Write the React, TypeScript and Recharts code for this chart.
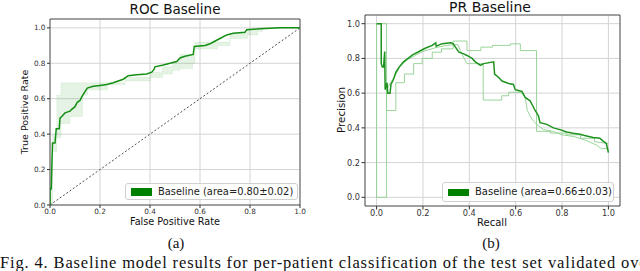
import {
  ComposedChart,
  Line,
  Area,
  XAxis,
  YAxis,
  CartesianGrid,
  ReferenceArea,
} from 'recharts';

// ROC curve (mean over folds)
const rocFpr = [0, 0, 0.005, 0.01, 0.02, 0.025, 0.037, 0.04, 0.047, 0.06, 0.08, 0.087, 0.1, 0.109, 0.12, 0.127, 0.14, 0.149, 0.173, 0.2, 0.227, 0.253, 0.273, 0.293, 0.313, 0.347, 0.387, 0.407, 0.416, 0.42, 0.453, 0.48, 0.507, 0.52, 0.54, 0.573, 0.577, 0.62, 0.64, 0.653, 0.68, 0.707, 0.733, 0.78, 0.787, 0.84, 0.92, 1];
const rocTpr = [0, 0.09, 0.09, 0.35, 0.35, 0.43, 0.43, 0.49, 0.5, 0.52, 0.53, 0.54, 0.555, 0.58, 0.59, 0.61, 0.64, 0.66, 0.67, 0.675, 0.68, 0.69, 0.7, 0.71, 0.73, 0.735, 0.74, 0.75, 0.765, 0.78, 0.79, 0.8, 0.81, 0.83, 0.84, 0.85, 0.895, 0.9, 0.91, 0.92, 0.94, 0.96, 0.97, 0.975, 0.99, 0.995, 1, 1];

// ROC std band
const bandFpr = [0, 0.01, 0.027, 0.044, 0.08, 0.13, 0.15, 0.23, 0.3, 0.4, 0.45, 0.49, 0.52, 0.57, 0.58, 0.67, 0.72, 0.79, 0.83, 0.85, 1];
const bandLow = [0, 0.3, 0.38, 0.46, 0.5, 0.62, 0.65, 0.68, 0.7, 0.72, 0.74, 0.76, 0.77, 0.8, 0.88, 0.9, 0.94, 0.96, 0.98, 1, 1];
const bandHigh = [0.1, 0.4, 0.62, 0.69, 0.69, 0.69, 0.69, 0.69, 0.72, 0.75, 0.78, 0.81, 0.85, 0.85, 0.92, 0.92, 0.97, 0.99, 1, 1, 1];

const chanceFpr = [0, 1];
const chanceTpr = [0, 1];

// PR curve (mean)
const prRecall = [0, 0.02, 0.02, 0.025, 0.03, 0.035, 0.037, 0.045, 0.048, 0.058, 0.062, 0.073, 0.083, 0.097, 0.116, 0.136, 0.155, 0.183, 0.212, 0.24, 0.255, 0.257, 0.283, 0.32, 0.33, 0.34, 0.355, 0.376, 0.39, 0.412, 0.426, 0.448, 0.462, 0.505, 0.509, 0.527, 0.541, 0.57, 0.59, 0.598, 0.627, 0.641, 0.662, 0.684, 0.698, 0.705, 0.734, 0.763, 0.791, 0.82, 0.848, 0.877, 0.906, 0.934, 0.963, 0.977, 0.991, 1];
const prPrecision = [1, 1, 0.77, 0.75, 0.75, 0.84, 0.62, 0.66, 0.6, 0.6, 0.65, 0.68, 0.72, 0.75, 0.78, 0.8, 0.82, 0.84, 0.86, 0.875, 0.89, 0.87, 0.885, 0.89, 0.885, 0.865, 0.836, 0.826, 0.817, 0.8, 0.78, 0.76, 0.77, 0.78, 0.71, 0.69, 0.67, 0.656, 0.65, 0.62, 0.61, 0.575, 0.556, 0.5, 0.47, 0.43, 0.42, 0.4, 0.39, 0.376, 0.369, 0.363, 0.353, 0.344, 0.34, 0.324, 0.31, 0.257];

// PR single folds
const foldARecall = [0, 0.043, 0.043, 0.083, 0.083, 0.12, 0.12, 0.16, 0.16, 0.197, 0.197, 0.24, 0.24, 0.28, 0.28, 0.33, 0.33, 0.39, 0.39, 0.45, 0.45, 0.5, 0.5, 0.577, 0.577, 0.62, 0.62, 0.69, 0.69, 0.75, 0.75, 0.82, 0.82, 0.88, 0.88, 0.94, 0.94, 1];
const foldAPrecision = [1, 1, 0.5, 0.5, 0.66, 0.66, 0.71, 0.71, 0.77, 0.77, 0.8, 0.8, 0.836, 0.836, 0.855, 0.855, 0.9, 0.9, 0.845, 0.845, 0.865, 0.865, 0.875, 0.875, 0.884, 0.884, 0.845, 0.845, 0.38, 0.38, 0.37, 0.37, 0.36, 0.36, 0.34, 0.34, 0.32, 0.31];
const foldBRecall = [0, 0, 0.043, 0.043, 0.06, 0.08, 0.1, 0.13, 0.17, 0.2, 0.25, 0.3, 0.35, 0.37, 0.39, 0.46, 0.46, 0.54, 0.54, 0.57, 0.57, 0.62, 0.64, 0.65, 0.67, 0.69, 0.72, 0.76, 0.8, 0.85, 0.9, 0.95, 0.97, 1];
const foldBPrecision = [1, 0, 0, 0.62, 0.66, 0.7, 0.75, 0.79, 0.82, 0.84, 0.86, 0.875, 0.88, 0.82, 0.77, 0.77, 0.56, 0.56, 0.585, 0.585, 0.605, 0.605, 0.58, 0.5, 0.45, 0.42, 0.39, 0.38, 0.36, 0.35, 0.33, 0.3, 0.28, 0.28];

const unitTicks = [0, 0.2, 0.4, 0.6, 0.8, 1.0];

const zip = (xs: number[], ys: number[]) => xs.map((x, i) => ({ x, y: ys[i] }));

const rocData = zip(rocFpr, rocTpr);
const chanceData = zip(chanceFpr, chanceTpr);
const bandData = bandFpr.map((x, i) => ({ x, range: [bandLow[i], bandHigh[i]] }));
const prData = zip(prRecall, prPrecision);
const foldAData = zip(foldARecall, foldAPrecision);
const foldBData = zip(foldBRecall, foldBPrecision);

const font = '"DejaVu Sans", sans-serif';
const serif = '"Liberation Serif", serif';
const fmt = (v: number) => v.toFixed(1);

function LegendBox({ left, top, width, height, size, label }: any) {
  return (
    <div
      style={{
        position: 'absolute',
        left,
        top,
        width,
        height,
        border: '1px solid #d0d0d0',
        borderRadius: 3,
        background: 'rgba(255,255,255,0.85)',
        boxSizing: 'border-box',
        fontFamily: font,
        fontSize: size,
        color: '#222',
      }}
    >
      <div style={{ position: 'absolute', left: 5, top: height / 2 - 4.5, width: 21, height: 7.5, background: '#008000' }} />
      <div style={{ position: 'absolute', left: 32, top: 0, lineHeight: `${height - 2}px`, whiteSpace: 'nowrap' }}>{label}</div>
    </div>
  );
}

function Txt({ left, top, size, children, rotate, isSerif }: any) {
  return (
    <div
      style={{
        position: 'absolute',
        left,
        top,
        transform: `translate(-50%, -50%)${rotate ? ' rotate(-90deg)' : ''}`,
        fontFamily: isSerif ? serif : font,
        fontSize: size,
        lineHeight: 1,
        whiteSpace: 'nowrap',
        color: '#111',
      }}
    >
      {children}
    </div>
  );
}

export default function App() {
  return (
    <div style={{ position: 'absolute', left: 0, top: 0, width: 640, height: 271, overflow: 'hidden', background: '#fff' }}>
      <div style={{ position: 'absolute', left: 0, top: 0 }}>
        <ComposedChart width={320} height={230} margin={{ top: 19, right: 20, bottom: 10, left: 30 }}>
          <CartesianGrid stroke="#d4d4d4" strokeWidth={1} />
          <XAxis
            dataKey="x"
            type="number"
            domain={[0, 1]}
            ticks={unitTicks}
            tickFormatter={fmt}
            allowDataOverflow
            height={15}
            tickSize={3}
            tickMargin={1}
            axisLine={false}
            tickLine={{ stroke: '#333' }}
            tick={{ fontSize: 7.3, fill: '#333', fontFamily: font }}
          />
          <YAxis
            dataKey="y"
            type="number"
            domain={[0, 1.05]}
            ticks={unitTicks}
            tickFormatter={fmt}
            allowDataOverflow
            width={20}
            tickSize={3}
            tickMargin={1.5}
            axisLine={false}
            tickLine={{ stroke: '#333' }}
            tick={{ fontSize: 7.3, fill: '#333', fontFamily: font }}
          />
          <Area
            data={bandData}
            dataKey="range"
            type="stepAfter"
            fill="#2ca02c"
            fillOpacity={0.12}
            stroke="#2ca02c"
            strokeOpacity={0.25}
            strokeWidth={0.6}
            strokeDasharray="1 1"
            isAnimationActive={false}
          />
          <Line
            data={chanceData}
            dataKey="y"
            type="linear"
            stroke="#222"
            strokeWidth={0.8}
            strokeDasharray="2 2"
            dot={false}
            isAnimationActive={false}
          />
          <Line
            data={rocData}
            dataKey="y"
            type="linear"
            stroke="#148f14"
            strokeWidth={1.5}
            dot={false}
            isAnimationActive={false}
          />
          <ReferenceArea x1={0} x2={1} y1={0} y2={1.05} fill="none" stroke="#333" strokeWidth={0.8} ifOverflow="extendDomain" />
        </ComposedChart>
      </div>

      <div style={{ position: 'absolute', left: 320, top: 0 }}>
        <ComposedChart width={320} height={230} margin={{ top: 15, right: 20, bottom: 9, left: 25 }}>
          <CartesianGrid stroke="#d4d4d4" strokeWidth={1} />
          <XAxis
            dataKey="x"
            type="number"
            domain={[-0.05, 1.05]}
            ticks={unitTicks}
            tickFormatter={fmt}
            allowDataOverflow
            height={15}
            tickSize={3.5}
            tickMargin={1}
            axisLine={false}
            tickLine={{ stroke: '#333' }}
            tick={{ fontSize: 8.2, fill: '#333', fontFamily: font }}
          />
          <YAxis
            dataKey="y"
            type="number"
            domain={[-0.05, 1.05]}
            ticks={unitTicks}
            tickFormatter={fmt}
            allowDataOverflow
            width={20}
            tickSize={3.5}
            tickMargin={1.5}
            axisLine={false}
            tickLine={{ stroke: '#333' }}
            tick={{ fontSize: 8.2, fill: '#333', fontFamily: font }}
          />
          <Line data={foldAData} dataKey="y" type="linear" stroke="#8fd08f" strokeWidth={0.9} dot={false} isAnimationActive={false} />
          <Line data={foldBData} dataKey="y" type="linear" stroke="#8fd08f" strokeWidth={0.9} dot={false} isAnimationActive={false} />
          <Line data={prData} dataKey="y" type="linear" stroke="#1f931f" strokeWidth={1.5} dot={false} isAnimationActive={false} />
          <ReferenceArea x1={-0.05} x2={1.05} y1={-0.05} y2={1.05} fill="none" stroke="#333" strokeWidth={0.8} ifOverflow="extendDomain" />
        </ComposedChart>
      </div>

      <Txt left={175} top={10} size={13.5}>ROC Baseline</Txt>
      <Txt left={490} top={7} size={14}>PR Baseline</Txt>
      <Txt left={175} top={222} size={9.7}>False Positive Rate</Txt>
      <Txt left={25} top={112} size={9.5} rotate>True Positive Rate</Txt>
      <Txt left={492} top={223} size={10}>Recall</Txt>
      <Txt left={341} top={110} size={10.3} rotate>Precision</Txt>

      <LegendBox left={125} top={183} width={173} height={17} size={9.9} label="Baseline (area=0.80±0.02)" />
      <LegendBox left={442} top={182} width={172} height={20} size={10} label="Baseline (area=0.66±0.03)" />

      <Txt left={176} top={243} size={15} isSerif>(a)</Txt>
      <Txt left={491} top={243} size={15} isSerif>(b)</Txt>
      <div
        style={{
          position: 'absolute',
          left: 0,
          top: 255,
          fontFamily: serif,
          fontSize: 16.5,
          letterSpacing: 0.85,
          lineHeight: 1,
          whiteSpace: 'nowrap',
          color: '#111',
        }}
      >
        Fig. 4. Baseline model results for per-patient classification of the test set validated over
      </div>
    </div>
  );
}
